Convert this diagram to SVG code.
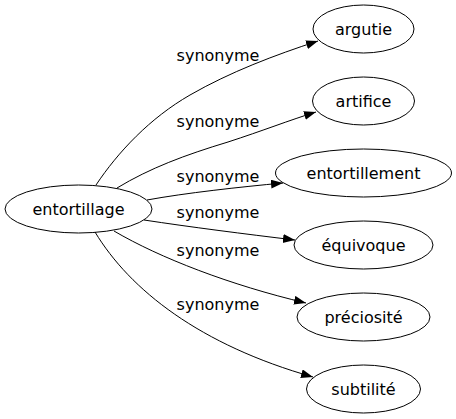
<svg xmlns="http://www.w3.org/2000/svg" width="456" height="419" viewBox="0 0 456 419">
<style>
.node ellipse{fill:none;stroke:#000;stroke-width:1}
text{font-family:"DejaVu Sans",sans-serif;font-size:16px;fill:#000;text-anchor:middle}
.edges path{fill:none;stroke:#000;stroke-width:1}
</style>
<defs>
<marker id="arr" markerUnits="userSpaceOnUse" markerWidth="13" markerHeight="10" refX="12" refY="4.5" orient="auto" viewBox="0 0 13 10">
<path d="M0,0 L12,4.5 L0,9 z" fill="#000"/>
</marker>
</defs>
<rect width="456" height="419" fill="#fff"/>
<g class="edges">
<path d="M96,185 C118,152 150,118 190,95 C230,72 275,55 318,41" marker-end="url(#arr)"/>
<path d="M117,188 C150,168 185,155 228,142 C262,131 290,120 316,112" marker-end="url(#arr)"/>
<path d="M147,200 C185,193 240,187 283,183" marker-end="url(#arr)"/>
<path d="M144,220 C190,227 245,234 295,240" marker-end="url(#arr)"/>
<path d="M114,231 C160,258 230,285 306,303" marker-end="url(#arr)"/>
<path d="M95,232 C130,290 200,345 313,377" marker-end="url(#arr)"/>
<text x="218" y="61">synonyme</text>
<text x="218" y="127">synonyme</text>
<text x="218" y="182">synonyme</text>
<text x="218" y="218">synonyme</text>
<text x="218" y="256">synonyme</text>
<text x="218" y="310">synonyme</text>
</g>
<g id="entortillage" class="node"><ellipse cx="78.5" cy="209" rx="73.5" ry="24"/><text x="78.5" y="214.5">entortillage</text></g>
<g id="argutie" class="node"><ellipse cx="363.5" cy="29" rx="50.5" ry="24"/><text x="363.5" y="34.5">argutie</text></g>
<g id="artifice" class="node"><ellipse cx="363.5" cy="101" rx="51" ry="24"/><text x="363.5" y="106.5">artifice</text></g>
<g id="entortillement" class="node"><ellipse cx="363.5" cy="173" rx="88" ry="24"/><text x="363.5" y="178.5">entortillement</text></g>
<g id="equivoque" class="node"><ellipse cx="363.5" cy="245" rx="69.5" ry="24"/><text x="363.5" y="250.5">équivoque</text></g>
<g id="preciosite" class="node"><ellipse cx="363.5" cy="317" rx="66.5" ry="24"/><text x="363.5" y="322.5">préciosité</text></g>
<g id="subtilite" class="node"><ellipse cx="363.5" cy="389" rx="57" ry="24"/><text x="363.5" y="394.5">subtilité</text></g>
</svg>
